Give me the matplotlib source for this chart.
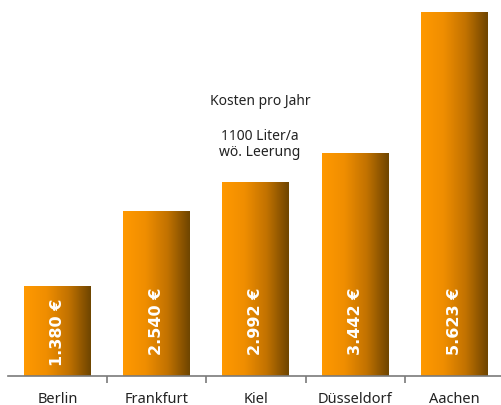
import numpy as np
import matplotlib
matplotlib.use("Agg")
import matplotlib.pyplot as plt
from matplotlib.colors import LinearSegmentedColormap

categories = ["Berlin", "Frankfurt", "Kiel", "Düsseldorf", "Aachen"]
values = [1380, 2540, 2992, 3442, 5623]
value_labels = ["1.380 €", "2.540 €", "2.992 €", "3.442 €", "5.623 €"]
annotation_title = "Kosten pro Jahr"
annotation_sub = "1100 Liter/a\nwö. Leerung"

plt.rcParams['font.family'] = ['Noto Sans', 'DejaVu Sans']

W, H = 501, 406
fig = plt.figure(figsize=(W / 100, H / 100), dpi=100)
base_px = 376.5
ymax = 5800
px_per_unit = 0.0647
ax_h_px = ymax * px_per_unit
ax = fig.add_axes([7.9 / W, (H - base_px) / H, 496 / W, ax_h_px / H])
ax.set_xlim(-0.5, 4.5)
ax.set_ylim(0, ymax)

cmap = LinearSegmentedColormap.from_list("og", ["#ff9900", "#f08e00", "#c27200", "#6e4500"])
grad = np.linspace(0, 1, 256).reshape(1, -1)
bw = 0.675
for i, v in enumerate(values):
    ax.imshow(grad, cmap=cmap, extent=(i - bw / 2, i + bw / 2, 0, v),
              aspect='auto', interpolation='bicubic', zorder=2)
    ly = min(v / 2, 850)
    ax.text(i, ly, value_labels[i], rotation=90, ha='center', va='center',
            color='white', fontsize=11.5, fontweight='bold', family='DejaVu Sans',
            zorder=3)

ax.set_xlim(-0.5, 4.5)
ax.set_ylim(0, ymax)
for s in ['top', 'left', 'right']:
    ax.spines[s].set_visible(False)
ax.spines['bottom'].set_color('#7a7a7a')
ax.spines['bottom'].set_linewidth(1.2)
ax.set_yticks([])
ax.set_xticks(range(len(categories)))
ax.set_xticklabels(categories, fontsize=10.5, color='#222222')
ax.tick_params(axis='x', which='major', length=0, pad=11)
ax.set_xticks([0.5, 1.5, 2.5, 3.5], minor=True)
ax.tick_params(axis='x', which='minor', length=5, width=1.2, color='#7a7a7a')

ax.text(2.04, 4245, annotation_title, ha='center', va='center', fontsize=10, color='#222222')
ax.text(2.04, 3585, annotation_sub, ha='center', va='center', fontsize=10,
        color='#222222', linespacing=1.1)

fig.savefig("out.png", dpi=100)
